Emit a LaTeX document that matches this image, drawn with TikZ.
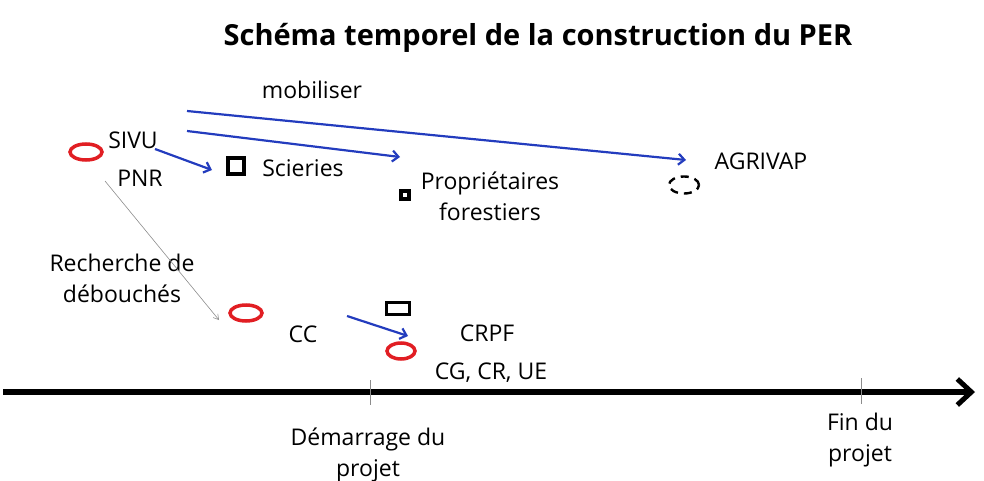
\documentclass[tikz,border=0pt]{standalone}
\usepackage{fontspec}
\setmainfont{Open Sans}
\usetikzlibrary{arrows.meta,shapes.geometric}
\definecolor{arrowblue}{RGB}{35,60,190}
\definecolor{ovalred}{RGB}{225,30,35}
\definecolor{thingray}{RGB}{140,140,140}
\begin{document}
\begin{tikzpicture}[x=1pt,y=-1pt,
  lbl/.style={font=\fontsize{23}{31}\selectfont, inner sep=0pt, align=center},
  redoval/.style={draw=ovalred, line width=3.5pt, ellipse, minimum width=32pt, minimum height=16pt, inner sep=0pt},
  blackbox/.style={draw=black, line width=3.5pt, rectangle, inner sep=0pt},
  bluearrow/.style={draw=arrowblue, line width=2.2pt, -{Straight Barb[length=6pt,width=11pt,line width=2.2pt]}},
  grayarrow/.style={draw=thingray, line width=0.6pt, -{Straight Barb[length=5pt,width=6pt]}},
  tick/.style={draw=thingray, line width=0.8pt}
]
\useasboundingbox (0,0) rectangle (984,481);
% title
\node[lbl, font=\fontsize{29}{34}\selectfont\bfseries] (title) at (538,38) {Schéma temporel de la construction du PER};
% upper group
\node[redoval] (ovA) at (86,152) {};
\node[lbl] (sivu) at (133,140) {SIVU};
\node[lbl] (pnr) at (140,178) {PNR};
\node[lbl] (mob) at (312,90) {mobiliser};
\node[blackbox, minimum width=16pt, minimum height=16pt] (sqA) at (236,166) {};
\node[lbl] (scie) at (303,168) {Scieries};
\node[blackbox, line width=3.2pt, minimum width=8pt, minimum height=8pt] (sqB) at (405,195) {};
\node[lbl] (prop) at (490,196) {Propriétaires\\forestiers};
\node[draw=black, line width=2.4pt, dash pattern=on 8pt off 6pt, ellipse, minimum width=30pt, minimum height=17pt, inner sep=0pt] (ovD) at (684,185) {};
\node[lbl] (agri) at (761,161) {AGRIVAP};
% arrow end points
\coordinate (s1) at (187,111);
\coordinate (e1) at (686,160);
\coordinate (s2) at (187,131);
\coordinate (e2) at (400,157);
\coordinate (s3) at (155,149);
\coordinate (e3) at (212,170);
\draw[bluearrow] (s1) -- (e1);
\draw[bluearrow] (s2) -- (e2);
\draw[bluearrow] (s3) -- (e3);
% lower group
\node[lbl] (rech) at (122,278) {Recherche de\\débouchés};
\coordinate (g1) at (105,181);
\coordinate (g2) at (219,320);
\draw[grayarrow] (g1) -- (g2);
\node[redoval] (ovB) at (246,313) {};
\node[lbl] (cc) at (303,334) {CC};
\node[blackbox, line width=3pt, minimum width=23pt, minimum height=12pt] (rect) at (398,308) {};
\coordinate (s4) at (347,316);
\coordinate (e4) at (408,336);
\draw[bluearrow] (s4) -- (e4);
\node[redoval, minimum width=28pt] (ovC) at (401,351) {};
\node[lbl] (crpf) at (487,333) {CRPF};
\node[lbl] (cg) at (491,373) {CG, CR, UE};
% timeline
\coordinate (t0) at (3,392);
\coordinate (t1) at (975,392);
\draw[line width=5.5pt, -{Straight Barb[length=14pt,width=26pt,line width=5pt]}] (t0) -- (t1);
\coordinate (d0) at (370,380);
\coordinate (d1) at (370,405);
\coordinate (f0) at (861,378);
\coordinate (f1) at (861,404);
\draw[tick] (d0) -- (d1);
\draw[tick] (f0) -- (f1);
\node[lbl] (dem) at (368,455) {Démarrage du\\projet};
\node[lbl] (fin) at (860,440) {Fin du\\projet};
\end{tikzpicture}
\end{document}
